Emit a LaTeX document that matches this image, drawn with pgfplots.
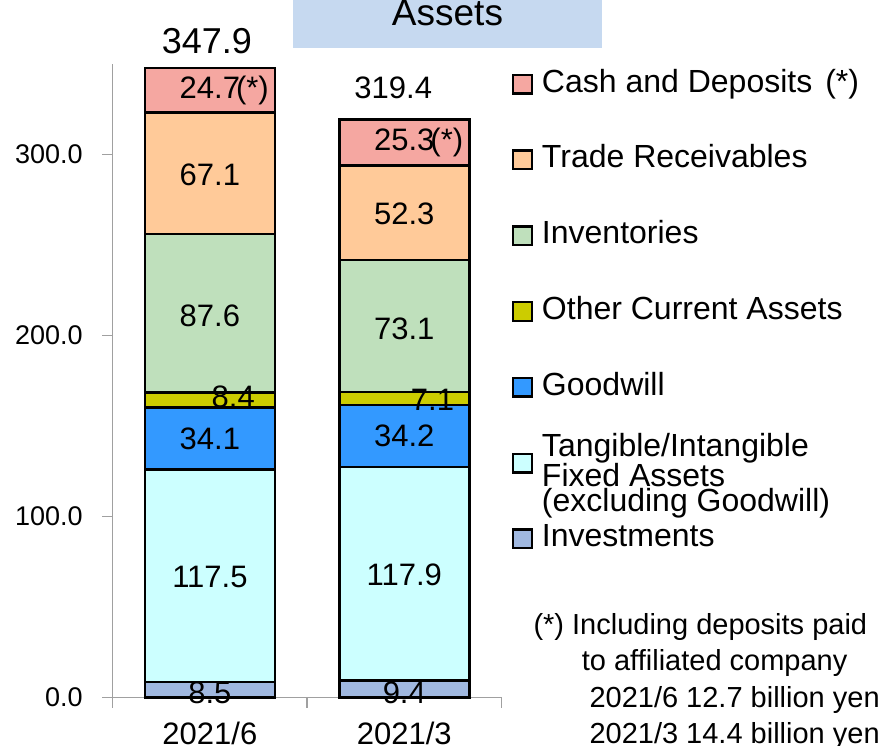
\documentclass[border=0pt]{standalone}
\usepackage{fontspec}
\setmainfont{Liberation Sans}
\usepackage{pgfplots}
\pgfplotsset{compat=1.18}

\definecolor{cash}{HTML}{F5A7A1}
\definecolor{trade}{HTML}{FFCA99}
\definecolor{invent}{HTML}{BFE0BC}
\definecolor{othercur}{HTML}{CCCC00}
\definecolor{goodwill}{HTML}{3399FF}
\definecolor{fixedas}{HTML}{CCFFFF}
\definecolor{invest}{HTML}{A0B8E0}
\definecolor{titlebox}{HTML}{C6D9F0}
\definecolor{axisgray}{HTML}{A0A0A0}

\newcommand{\lblfont}{\fontsize{31}{34}\selectfont}
\newcommand{\fixedentry}{\raisebox{15pt}{\parbox[t]{330pt}{\fontsize{32}{24.5}\selectfont Tangible/Intangible\par Fixed Assets\par (excluding Goodwill)}}}

\pgfplotsset{chartbox/.style={
    at={(112.7pt,48.7pt)}, anchor=south west,
    scale only axis, width=388.8pt, height=633.3pt,
    xmin=-0.5, xmax=1.5, ymin=0, ymax=350, clip=false}}

\begin{document}
\begin{tikzpicture}
\path[use as bounding box] (0,0) rectangle (887pt,746pt);
\fill[titlebox] (293pt,698.3pt) rectangle (602pt,750pt);
\node[font=\fontsize{37}{40}\selectfont, anchor=base] at (447.5pt,720pt) {Assets};

\begin{axis}[
    chartbox,
    ybar stacked, bar width=130pt,
    axis x line*=bottom, axis y line*=left,
    axis line style={axisgray, line width=1.5pt, -},
    tick style={axisgray, line width=1.5pt},
    tick align=outside,
    major tick length=10.5pt,
    xtick={-0.5,0.5,1.5}, xticklabels={,,},
    extra x ticks={0,1},
    extra x tick labels={2021/6,2021/3},
    extra x tick style={major tick length=0pt},
    xticklabel style={font=\lblfont, yshift=-21pt},
    ytick={0,100,200,300},
    yticklabel style={font=\fontsize{27}{30}\selectfont, xshift=-16pt,
        /pgf/number format/fixed, /pgf/number format/fixed zerofill,
        /pgf/number format/precision=1,
        /pgf/number format/assume math mode=true},
    reverse legend,
    legend cell align=left,
    legend image code/.code={\draw[#1, draw=black, line width=2.4pt] (1.2pt,-9.3pt) rectangle (19.8pt,9.3pt);},
    legend style={at={(1.027,0.9905)}, anchor=north west, draw=none, fill=none,
        inner sep=0pt, outer sep=0pt, column sep=9pt, row sep=47.8pt,
        font=\fontsize{32}{24.5}\selectfont,
        nodes={inner sep=0pt, outer sep=0pt, text height=22pt, text depth=6pt}},
]
\addplot[fill=invest, draw=black, line width=2.5pt] coordinates {(0,8.5) (1,9.4)};
\addlegendentry{Investments}
\addplot[fill=fixedas, draw=black, line width=2.5pt] coordinates {(0,117.5) (1,117.9)};
\addlegendentry{\fixedentry}
\addplot[fill=goodwill, draw=black, line width=2.5pt] coordinates {(0,34.1) (1,34.2)};
\addlegendentry{Goodwill}
\addplot[fill=othercur, draw=black, line width=2.5pt] coordinates {(0,8.4) (1,7.1)};
\addlegendentry{Other Current Assets}
\addplot[fill=invent, draw=black, line width=2.5pt] coordinates {(0,87.6) (1,73.1)};
\addlegendentry{Inventories}
\addplot[fill=trade, draw=black, line width=2.5pt] coordinates {(0,67.1) (1,52.3)};
\addlegendentry{Trade Receivables}
\addplot[fill=cash, draw=black, line width=2.5pt] coordinates {(0,24.7) (1,25.3)};
\addlegendentry{Cash and Deposits\hspace{13pt}(*)}
\end{axis}

% segment labels in an overlaid axis, so they lie on top of the bars
\begin{axis}[chartbox, hide axis]
\node[font=\lblfont, inner sep=0pt] at (axis cs:0,2.5) {8.5};
\node[font=\lblfont, inner sep=0pt] at (axis cs:0,66.5) {117.5};
\node[font=\lblfont, inner sep=0pt] at (axis cs:0,143.0) {34.1};
\node[font=\lblfont, inner sep=0pt] at (axis cs:0.12,165.9) {8.4};
\node[font=\lblfont, inner sep=0pt] at (axis cs:0,211.0) {87.6};
\node[font=\lblfont, inner sep=0pt] at (axis cs:0,288.5) {67.1};
\node[font=\lblfont, inner sep=0pt] at (axis cs:0,335.5) {24.7\rlap{\kern-4pt(*)}};
\node[font=\lblfont, inner sep=0pt] at (axis cs:1,2.5) {9.4};
\node[font=\lblfont, inner sep=0pt] at (axis cs:1,67.5) {117.9};
\node[font=\lblfont, inner sep=0pt] at (axis cs:1,144.4) {34.2};
\node[font=\lblfont, inner sep=0pt] at (axis cs:1.145,164.3) {7.1};
\node[font=\lblfont, inner sep=0pt] at (axis cs:1,203.5) {73.1};
\node[font=\lblfont, inner sep=0pt] at (axis cs:1,267.0) {52.3};
\node[font=\lblfont, inner sep=0pt] at (axis cs:1,306.6) {25.3\rlap{\kern-4pt(*)}};
\node[font=\fontsize{36}{40}\selectfont, inner sep=0pt] at (axis cs:-0.015,362.6) {347.9};
\node[font=\lblfont, inner sep=0pt] at (axis cs:0.943,337.0) {319.4};
\end{axis}

\begin{scope}[every node/.style={font=\fontsize{29}{32}\selectfont, anchor=base west, inner sep=0pt}]
\node at (533.3pt,111pt) {(*) Including deposits paid};
\node at (581.7pt,75pt) {to affiliated company};
\node at (589.3pt,38pt) {2021/6 12.7 billion yen};
\node at (589.3pt,2pt) {2021/3 14.4 billion yen};
\end{scope}
\end{tikzpicture}
\end{document}
